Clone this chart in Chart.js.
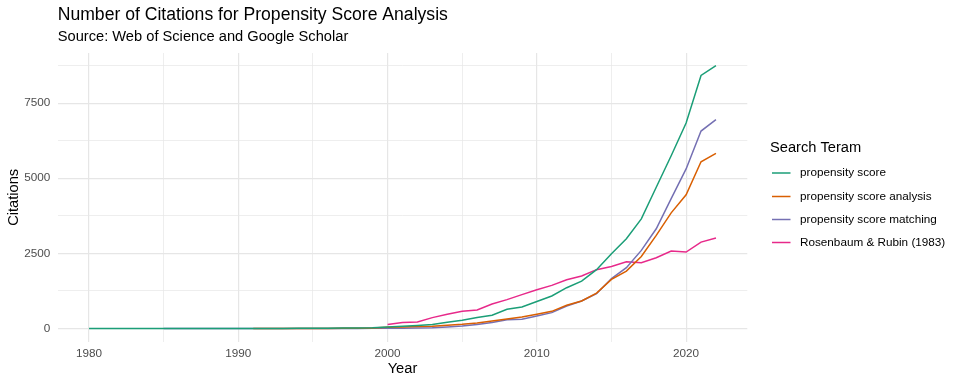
<!DOCTYPE html>
<html><head><meta charset="utf-8">
<script src="https://cdn.jsdelivr.net/npm/chart.js@4.4.1/dist/chart.umd.min.js"></script>
<style>html,body{margin:0;padding:0;background:#fff}#wrap{width:960px;height:384px;position:relative}</style>
</head><body><div id="wrap"><canvas id="c" width="960" height="384"></canvas></div>
<script>
const years = [1980,1981,1982,1983,1984,1985,1986,1987,1988,1989,1990,1991,1992,1993,1994,1995,1996,1997,1998,1999,2000,2001,2002,2003,2004,2005,2006,2007,2008,2009,2010,2011,2012,2013,2014,2015,2016,2017,2018,2019,2020,2021,2022];
const propensityScore = [0,0,0,0,0,0,1,1,1,2,2,3,4,5,7,9,12,16,22,30,55,77,100,133,210,277,365,443,640,718,900,1083,1360,1580,1960,2490,2990,3650,4700,5750,6840,8420,8750];
const propensityScoreAnalysis = [null,null,null,null,null,null,null,null,null,null,null,0,1,1,2,3,5,8,12,20,44,55,65,77,110,143,188,254,320,387,480,574,774,917,1180,1637,1913,2400,3100,3850,4450,5550,5830];
const propensityScoreMatching = [null,null,null,null,null,0,0,0,0,0,0,0,0,1,1,1,2,3,5,7,10,15,20,30,55,88,133,200,290,310,420,530,750,917,1160,1660,2025,2600,3320,4320,5310,6570,6950];
const rosenbaumRubin = [null,null,null,null,null,null,null,null,null,null,null,null,null,null,null,null,null,null,null,null,133,200,220,365,475,575,620,818,963,1130,1290,1437,1626,1747,1960,2068,2225,2190,2357,2577,2545,2877,3010];
const seriesNames = ['propensity score','propensity score analysis','propensity score matching','Rosenbaum & Rubin (1983)'];
const seriesValues = [propensityScore, propensityScoreAnalysis, propensityScoreMatching, rosenbaumRubin];
const colors = ['#1B9E77','#D95F02','#7570B3','#E7298A'];
const xTicks = [1980,1985,1990,1995,2000,2005,2010,2015,2020];
const yTicks = [0,1250,2500,3750,5000,6250,7500,8750];
const xLabelTicks = [1980,1990,2000,2010,2020];
const yLabelTicks = [0,2500,5000,7500];
const titleText = 'Number of Citations for Propensity Score Analysis';
const subtitleText = 'Source: Web of Science and Google Scholar';
const xTitle = 'Year', yTitle = 'Citations', legendTitle = 'Search Teram';

const FONT = '"Liberation Sans", Arial, sans-serif';
const datasets = seriesValues.map((vals,i)=>({
  label: seriesNames[i],
  data: years.map((y,j)=>({x:y,y:vals[j]})).filter(p=>p.y!==null),
  borderColor: colors[i], backgroundColor: colors[i],
  borderWidth: 1.5, pointRadius: 0, tension: 0, fill:false
}));

const textPlugin = {
  id:'textPlugin',
  afterDraw(chart){
    const ctx = chart.ctx, a = chart.chartArea;
    ctx.save();
    ctx.fillStyle = '#000';
    ctx.textBaseline = 'middle';
    ctx.textAlign = 'left';
    ctx.font = '17.6px ' + FONT;
    ctx.fillText(titleText, a.left, 15);
    ctx.font = '14.67px ' + FONT;
    ctx.fillText(subtitleText, a.left, 37);
    ctx.textAlign = 'center';
    ctx.fillText(xTitle, (a.left+a.right)/2, 369);
    ctx.save();
    ctx.translate(13.5, (a.top+a.bottom)/2);
    ctx.rotate(-Math.PI/2);
    ctx.fillText(yTitle, 0, 0);
    ctx.restore();
    // legend
    ctx.textAlign = 'left';
    ctx.font = '14.67px ' + FONT;
    ctx.fillText(legendTitle, 770, 148);
    ctx.font = '11.73px ' + FONT;
    const ys = [173, 196.5, 219.5, 242.5];
    seriesNames.forEach((n,i)=>{
      ctx.strokeStyle = colors[i];
      ctx.lineWidth = 1.5;
      ctx.beginPath(); ctx.moveTo(772, ys[i]); ctx.lineTo(790.5, ys[i]); ctx.stroke();
      ctx.fillStyle = '#000';
      ctx.fillText(n, 800, ys[i]);
    });
    ctx.restore();
  }
};

new Chart(document.getElementById('c'), {
  type:'line',
  data:{datasets},
  plugins:[textPlugin],
  options:{
    responsive:false, animation:false, devicePixelRatio:1,
    layout:{padding:{top:53,right:212.7,left:0,bottom:0}},
    plugins:{legend:{display:false}, title:{display:false}, tooltip:{enabled:false}},
    scales:{
      x:{type:'linear', min:1977.9, max:2024.1,
        afterBuildTicks(s){ s.ticks = xTicks.map(v=>({value:v})); },
        afterFit(s){ s.height = 42.3; },
        border:{display:false},
        grid:{color:'#e6e6e6', drawTicks:false, lineWidth:(c)=> (c.tick && xLabelTicks.includes(c.tick.value)) ? 1.2 : 0.7},
        ticks:{padding:5, color:'#4d4d4d', font:{family:FONT,size:11.73}, maxRotation:0, autoSkip:false,
          callback:(v)=> xLabelTicks.includes(v) ? String(v) : ''}
      },
      y:{type:'linear', min:-436.5, max:9166.5,
        afterBuildTicks(s){ s.ticks = yTicks.map(v=>({value:v})); },
        afterFit(s){ s.width = 57.7; },
        border:{display:false},
        grid:{color:'#e6e6e6', drawTicks:false, lineWidth:(c)=> (c.tick && yLabelTicks.includes(c.tick.value)) ? 1.2 : 0.7},
        ticks:{padding:7.5, color:'#4d4d4d', font:{family:FONT,size:11.73}, autoSkip:false,
          callback:(v)=> yLabelTicks.includes(v) ? String(v) : ''}
      }
    }
  }
});
</script></body></html>
